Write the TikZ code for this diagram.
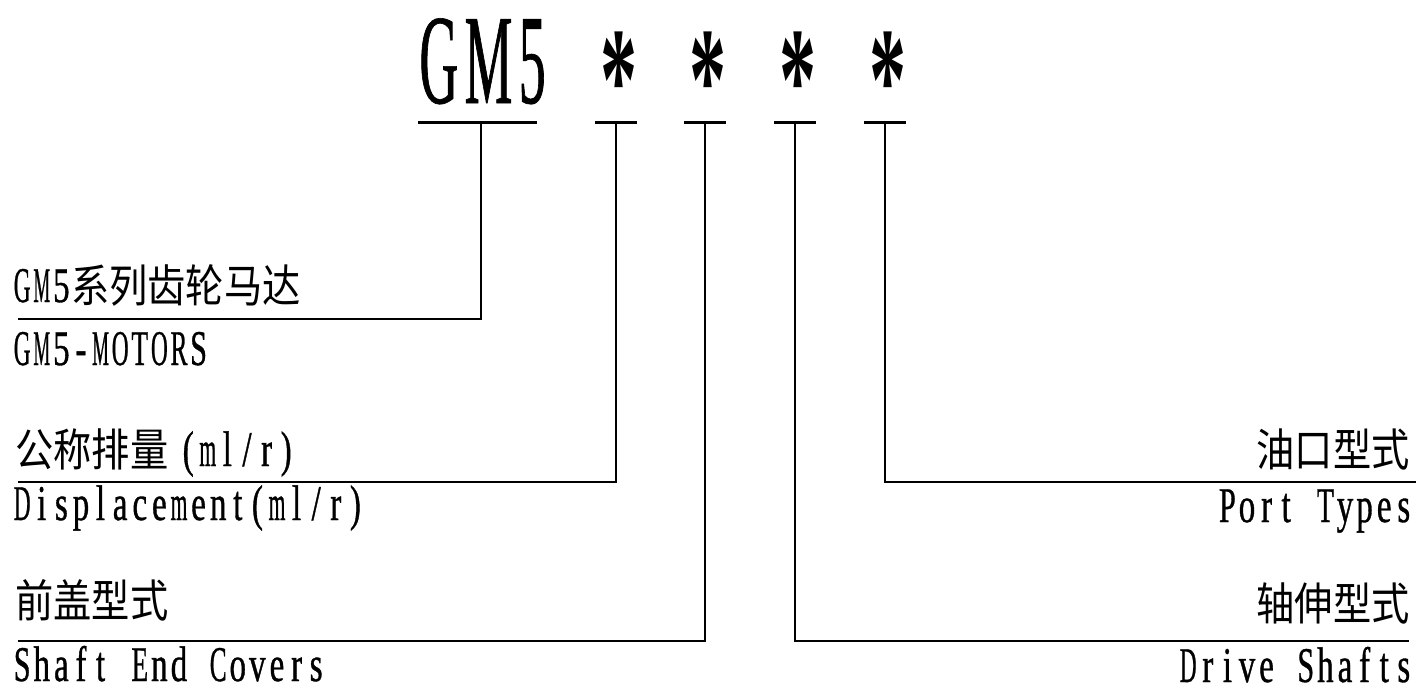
\documentclass[tikz,border=0pt]{standalone}
\usepackage{fontspec}
\setmainfont{Liberation Serif}
\newfontfamily\cadfont[FakeStretch=0.66,FakeBold=0.7]{Liberation Serif}
\newfontfamily\bigfont[FakeStretch=0.42,LetterSpace=5,FakeBold=0.5]{Liberation Serif}
\newfontfamily\starfont[FakeStretch=0.5]{Liberation Serif}
\newfontfamily\cjk[FakeStretch=0.85,Scale=0.9]{Noto Sans CJK SC}

% fixed pitch, as in the drawing
\ExplSyntaxOn
\box_new:N \l_cad_box
\NewDocumentCommand\pitch{m}{
 \str_map_inline:nn{#1}{
  \hbox_set:Nn \l_cad_box {##1}
  \dim_compare:nNnT {\box_wd:N \l_cad_box} > {8.4pt}
   { \box_scale:Nnn \l_cad_box
     { \fp_eval:n { \dim_to_fp:n {8.4pt} / \dim_to_fp:n {\box_wd:N \l_cad_box} } } {1} }
  \makebox[9.8pt][c]{\box_use:N \l_cad_box}
 }
}
\ExplSyntaxOff

\tikzset{
 lbl/.style={inner sep=0pt,font=\fontsize{25}{27}\selectfont\cadfont},
 mark line/.style={line width=1.5pt},
 lead/.style={line width=0.9pt},
}

\begin{document}
\begin{tikzpicture}[x=0.5pt,y=-0.5pt]
\useasboundingbox (0,0) rectangle (1416,693);

% code
\node[inner sep=0pt,anchor=base west,font=\fontsize{64}{64}\selectfont\bigfont] (title) at (419,103) {GM5};
\coordinate (title-l) at (418,122);
\coordinate (title-r) at (537,122);
\coordinate (title-t) at (481,122);
\coordinate (title-k) at (481,319);
\coordinate (title-e) at (18,319);
\draw[mark line] (title-l) -- (title-r);
\draw[lead] (title-t) -- (title-k) -- (title-e);

\foreach \n/\x/\y in {s1/616/482,s2/705/641,s3/795/641,s4/885/482} {
 \node[inner sep=0pt,anchor=base,font=\fontsize{74}{74}\selectfont\starfont\bfseries] (\n) at (\x+3,129) {*};
 \coordinate (\n-l) at (\x-21,122);
 \coordinate (\n-r) at (\x+21,122);
 \coordinate (\n-t) at (\x,122);
 \coordinate (\n-k) at (\x,\y);
 \draw[mark line] (\n-l) -- (\n-r);
}
\coordinate (s1-e) at (18,482);
\coordinate (s2-e) at (18,641);
\coordinate (s3-e) at (1409,641);
\coordinate (s4-e) at (1416,482);
\foreach \n in {s1,s2,s3,s4}
 \draw[lead] (\n-t) -- (\n-k) -- (\n-e);

% labels
\node[lbl,anchor=base west] (cn1) at (12,302) {\pitch{GM5}{\cjk 系列齿轮马达}};
\node[lbl,anchor=base west] (en1) at (12,365) {\pitch{GM5-MOTORS}};
\node[lbl,anchor=base west] (cn2) at (15,466) {{\cjk 公称排量}\hspace{5pt}\pitch{(ml/r)}};
\node[lbl,anchor=base west] (en2) at (12,520) {\pitch{Displacement(ml/r)}};
\node[lbl,anchor=base west] (cn3) at (15,617) {{\cjk 前盖型式}};
\node[lbl,anchor=base west] (en3) at (12,681) {\pitch{Shaft End Covers}};
\node[lbl,anchor=base east] (cn4) at (1410,466) {{\cjk 油口型式}};
\node[lbl,anchor=base east] (en4) at (1414,522) {\pitch{Port Types}};
\node[lbl,anchor=base east] (cn5) at (1410,620) {{\cjk 轴伸型式}};
\node[lbl,anchor=base east] (en5) at (1414,682) {\pitch{Drive Shafts}};

\end{tikzpicture}
\end{document}
